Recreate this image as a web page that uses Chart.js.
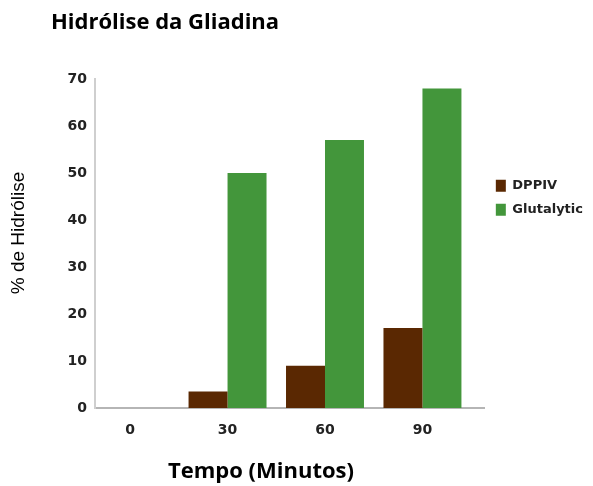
<!DOCTYPE html>
<html>
<head>
<meta charset="utf-8">
<script src="https://cdn.jsdelivr.net/npm/chart.js@4"></script>
<style>
html,body{margin:0;padding:0;background:#fff;}
#wrap{position:relative;width:593px;height:486px;}
</style>
</head>
<body>
<div id="wrap"><canvas id="c" width="593" height="486"></canvas></div>
<script>
const categories = ['0', '30', '60', '90'];
const dppiv = [0, 3.5, 9, 17];
const glutalytic = [0, 50, 57, 68];
const yTicks = [0, 10, 20, 30, 40, 50, 60, 70];
const seriesNames = ['DPPIV', 'Glutalytic'];
const chartTitle = 'Hidrólise da Gliadina';
const xTitle = 'Tempo (Minutos)';
const yTitle = '% de Hidrólise';

const toPoints = arr => arr.map((v, i) => ({ x: i, y: v }));

const textPlugin = {
  id: 'texts',
  afterDraw(chart) {
    const ctx = chart.ctx;
    ctx.save();
    ctx.fillStyle = '#000';
    ctx.textBaseline = 'middle';
    ctx.textAlign = 'left';
    ctx.font = 'bold 22px "Open Sans"';
    ctx.fillText(chartTitle, 51, 23);
    ctx.textAlign = 'center';
    ctx.fillText(xTitle, 261, 472);
    ctx.translate(19, 233);
    ctx.rotate(-Math.PI / 2);
    ctx.font = '19px "Liberation Sans"';
    ctx.fillText(yTitle, 0, 0);
    ctx.restore();
  }
};

new Chart(document.getElementById('c'), {
  type: 'bar',
  data: {
    datasets: [
      { label: seriesNames[0], data: toPoints(dppiv), backgroundColor: '#5a2802', borderWidth: 0 },
      { label: seriesNames[1], data: toPoints(glutalytic), backgroundColor: '#43963b', borderWidth: 0 }
    ]
  },
  options: {
    responsive: false,
    animation: false,
    devicePixelRatio: 1,
    layout: { padding: { top: 79, left: 0, right: 0, bottom: 0 } },
    datasets: { bar: { categoryPercentage: 0.8, barPercentage: 1.0 } },
    plugins: {
      title: { display: false },
      tooltip: { enabled: false },
      legend: {
        position: 'right',
        align: 'start',
        title: { display: true, text: '', font: { size: 1 }, padding: { top: 88, bottom: 0 } },
        labels: {
          boxWidth: 10, boxHeight: 12, padding: 11,
          color: '#222',
          font: { family: '"DejaVu Sans"', weight: 'bold', size: 13 }
        }
      }
    },
    scales: {
      x: {
        type: 'linear',
        offset: false,
        min: -0.36, max: 3.64,
        afterBuildTicks(scale) { scale.ticks = categories.map((c, i) => ({ value: i })); },
        grid: { display: false, drawTicks: false, offset: false },
        border: { color: '#b5b5b5', width: 2 },
        ticks: {
          color: '#222', padding: 14,
          font: { family: '"DejaVu Sans"', weight: 'bold', size: 14 },
          callback: (v) => categories[v]
        },
        afterFit(scale) { scale.height = 486 - 408; }
      },
      y: {
        min: 0, max: 70,
        afterBuildTicks(scale) { scale.ticks = yTicks.map(v => ({ value: v })); },
        grid: { display: false, drawTicks: false },
        border: { color: '#cfcfcf', width: 2 },
        ticks: { color: '#222', padding: 8, font: { family: '"DejaVu Sans"', weight: 'bold', size: 14 } },
        afterFit(scale) { scale.width = 95; }
      }
    }
  },
  plugins: [textPlugin]
});
</script>
</body>
</html>
